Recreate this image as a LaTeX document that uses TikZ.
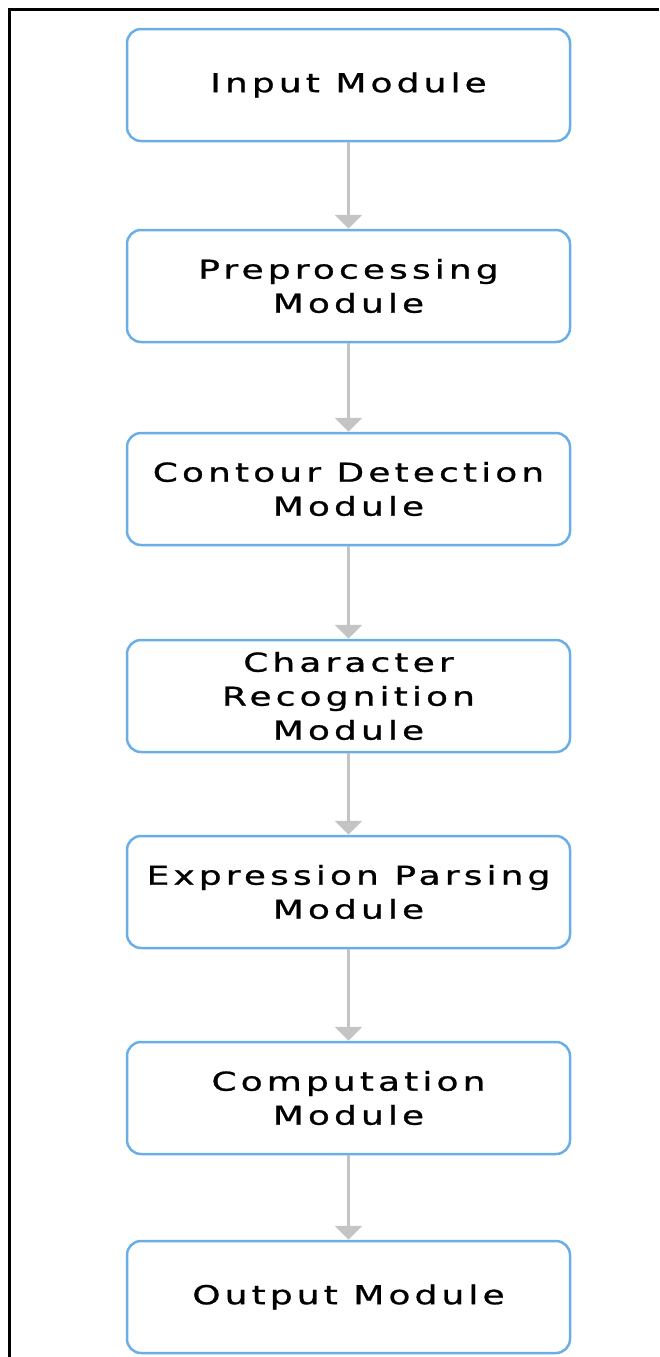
\documentclass[tikz,border=0pt]{standalone}
\usepackage{fontspec}
\setmainfont{DejaVu Sans}[FakeStretch=1.38,LetterSpace=16,FakeBold=1]
\usetikzlibrary{arrows.meta}
\usetikzlibrary{positioning}
\definecolor{boxblue}{HTML}{6AAEE8}
\definecolor{flowgray}{HTML}{C4C4C4}
\tikzset{
  modulebox/.style={draw=boxblue, line width=2.5pt, rounded corners=14pt,
    minimum width=443pt, minimum height=112pt, inner sep=0pt, align=center,
    font=\fontsize{26}{34}\selectfont},
  flow/.style={draw=flowgray, line width=2.5pt, -{Triangle[width=27pt,length=14pt]}}
}
\begin{document}
\begin{tikzpicture}[x=1pt,y=-1pt]
  \useasboundingbox (0,0) rectangle (659,1357);
  % frame
  \draw[line width=3pt] (659,9) -- (9,9) -- (9,1357);
  % modules
  \node[modulebox] (input) at (348.5,85) {Input Module};
  \node[modulebox] (prep) at (348.5,286) {Preprocessing\\Module};
  \node[modulebox] (contour) at (348.5,489) {Contour Detection\\Module};
  \node[modulebox] (charrec) at (348.5,696) {Character\\Recognition\\Module};
  \node[modulebox] (parse) at (348.5,892) {Expression Parsing\\Module};
  \node[modulebox] (comp) at (348.5,1098) {Computation\\Module};
  \node[modulebox] (output) at (348.5,1297) {Output Module};
  % flow
  \draw[flow] (input) -- (prep);
  \draw[flow] (prep) -- (contour);
  \draw[flow] (contour) -- (charrec);
  \draw[flow] (charrec) -- (parse);
  \draw[flow] (parse) -- (comp);
  \draw[flow] (comp) -- (output);
\end{tikzpicture}
\end{document}
